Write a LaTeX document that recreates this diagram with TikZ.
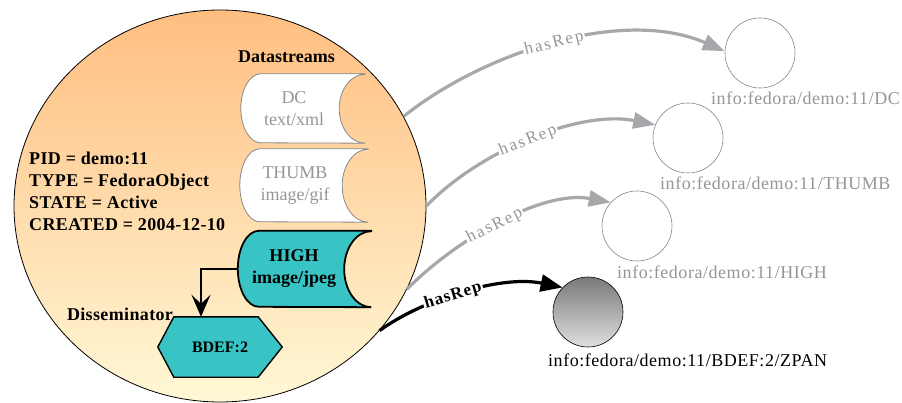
\documentclass[tikz,border=0pt]{standalone}
\usepackage{fontspec}
\setmainfont{Liberation Serif}
\usetikzlibrary{arrows.meta,shapes.geometric,calc}
\pgfdeclarelayer{back}
\pgfdeclarelayer{mid}
\pgfsetlayers{back,mid,main}
\definecolor{txtgray}{RGB}{150,150,150}
\definecolor{edgegray}{RGB}{168,168,172}
\definecolor{tealfill}{RGB}{56,196,196}
\definecolor{orangetop}{RGB}{255,190,128}
\definecolor{yellowbot}{RGB}{255,248,214}
\definecolor{outgray}{RGB}{135,135,135}
\begin{document}
\begin{tikzpicture}[x=1pt,y=1pt,
  fnt/.style={font=\fontsize{#1}{22}\selectfont},
  bfnt/.style={font=\bfseries\fontsize{#1}{22}\selectfont},
  dsnode/.style={inner sep=0pt, align=center},
  repcirc/.style={circle, draw=outgray, line width=0.6pt, minimum size=70pt, inner sep=0pt},
  urilbl/.style={anchor=west, inner sep=0pt, font=\fontsize{18}{22}\selectfont\addfontfeatures{LetterSpace=3}},
  gedge/.style={draw=edgegray, line width=3.2pt, -{Triangle[length=22pt,width=16pt]}},
  bedge/.style={draw=black, line width=3.2pt, -{Triangle[length=22pt,width=17pt]}},
  elbl/.style={sloped, fill=white, inner sep=1.5pt, text=txtgray, font=\fontsize{17}{20}\selectfont\addfontfeatures{LetterSpace=12}}
]
\begin{pgfonlayer}{back}
\useasboundingbox[fill=white] (0,0) rectangle (902,-403);
% big object ellipse
\node[ellipse, draw=black, line width=0.8pt, top color=orangetop, bottom color=yellowbot,
      minimum width=412pt, minimum height=392pt, inner sep=0pt] (obj) at (220,-206) {};
\end{pgfonlayer}

% texts inside object
\node[bfnt=18, inner sep=0pt] (dstitle) at (286.5,-57) {Datastreams};
\node[font=\bfseries\fontsize{18}{22}\selectfont\addfontfeatures{LetterSpace=2}, anchor=west, align=left, inner sep=0pt] (props) at (29,-191)
  {PID = demo:11\\TYPE = FedoraObject\\STATE = Active\\CREATED = 2004-12-10};
\node[font=\bfseries\fontsize{18}{22}\selectfont\addfontfeatures{LetterSpace=2}, inner sep=0pt] (dissem) at (120,-314) {Disseminator};

% datastream nodes
\node[dsnode, fnt=18, text=txtgray, minimum width=106pt, minimum height=69pt] (dc) at (294,-108.5) {DC\\text/xml};
\node[dsnode, fnt=18, text=txtgray, minimum width=110pt, minimum height=73pt] (thumb) at (295,-185.5) {THUMB\\image/gif};
\node[dsnode, bfnt=18, minimum width=112pt, minimum height=76pt] (high) at (294,-269) {HIGH\\image/jpeg};
\node[dsnode, bfnt=16, minimum width=124pt, minimum height=60pt] (bdef) at (220,-347) {BDEF:2};

\begin{pgfonlayer}{mid}
\draw[draw=outgray, fill=white, line width=0.8pt]
  ([xshift=18pt]dc.north east) -- ([xshift=20pt]dc.north west)
  arc[start angle=90, end angle=270, x radius=20pt, y radius=34.5pt]
  -- ([xshift=18pt]dc.south east)
  arc[start angle=270, end angle=90, x radius=26pt, y radius=34.5pt] -- cycle;
\draw[draw=outgray, fill=white, line width=0.8pt]
  ([xshift=18pt]thumb.north east) -- ([xshift=20pt]thumb.north west)
  arc[start angle=90, end angle=270, x radius=20pt, y radius=36.5pt]
  -- ([xshift=18pt]thumb.south east)
  arc[start angle=270, end angle=90, x radius=26pt, y radius=36.5pt] -- cycle;
\draw[draw=black, fill=tealfill, line width=1.8pt]
  ([xshift=21pt]high.north east) -- ([xshift=21pt]high.north west)
  arc[start angle=90, end angle=270, x radius=21pt, y radius=38pt]
  -- ([xshift=21pt]high.south east)
  arc[start angle=270, end angle=90, x radius=27pt, y radius=38pt] -- cycle;
\draw[draw=black, fill=tealfill, line width=1.4pt]
  ([xshift=16pt]bdef.north west) -- ([xshift=-24pt]bdef.north east) -- (bdef.east)
  -- ([xshift=-24pt]bdef.south east) -- ([xshift=16pt]bdef.south west) -- (bdef.west) -- cycle;
\end{pgfonlayer}

\draw[line width=2.4pt, -{Stealth[length=22pt,width=19pt,inset=9pt]}]
  (high.west) -| ([xshift=-19pt]bdef.north);

% representation circles
\node[repcirc] (cdc) at (760,-53) {};
\node[repcirc] (cthumb) at (688,-138) {};
\node[repcirc] (chigh) at (637,-226) {};
\node[repcirc, draw=black, top color=gray!95!black, bottom color=gray!25] (cbdef) at (588,-312) {};

\node[urilbl, text=txtgray] (ldc) at (711,-98) {info:fedora/demo:11/DC};
\node[urilbl, text=txtgray] (lthumb) at (660,-183) {info:fedora/demo:11/THUMB};
\node[urilbl, text=txtgray] (lhigh) at (617,-272) {info:fedora/demo:11/HIGH};
\node[urilbl] (lbdef) at (548,-360) {info:fedora/demo:11/BDEF:2/ZPAN};

% hasRep edges
\draw[gedge] (obj.26) .. controls +(77,62) and +(-104,45) .. (cdc.177)
  node[elbl, pos=0.5] {hasRep};
\draw[gedge] (obj.0) .. controls +(54,56) and +(-75,15) .. (cthumb.158)
  node[elbl, pos=0.48] {hasRep};
\draw[gedge] (obj.-24) .. controls +(45,46) and +(-71,13) .. (chigh.138)
  node[elbl, pos=0.48] {hasRep};
\draw[bedge] (obj.-38) .. controls +(41,30) and +(-63,13) .. (cbdef.136)
  node[elbl, pos=0.45, text=black, font=\bfseries\fontsize{17}{20}\selectfont\addfontfeatures{LetterSpace=6}] {hasRep};
\end{tikzpicture}
\end{document}
